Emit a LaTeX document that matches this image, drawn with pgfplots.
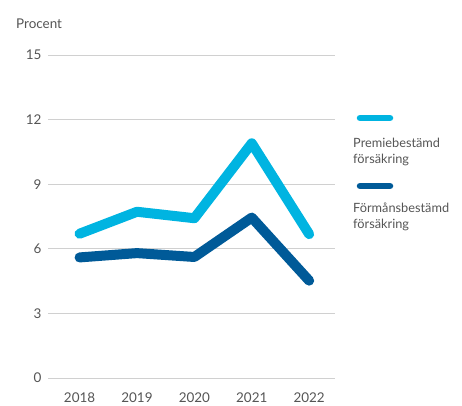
\documentclass[border=0pt]{standalone}
\usepackage{pgfplots}
\pgfplotsset{compat=1.18}
\usepackage{fontspec}
\setmainfont{Lato}
\definecolor{lightb}{HTML}{00B4E1}
\definecolor{darkb}{HTML}{005A98}
\definecolor{txt}{HTML}{555555}
\definecolor{gridc}{HTML}{D0D0D0}
\begin{document}
\begin{tikzpicture}[x=1bp,y=1bp]
\begin{axis}[
  at={(0,0)}, anchor=south west,
  scale only axis, width=287bp, height=323bp,
  xmin=2017.45, xmax=2022.45,
  ymin=0, ymax=15,
  ytick={0,3,6,9,12,15},
  xtick={2018,2019,2020,2021,2022},
  xticklabel style={/pgf/number format/1000 sep=},
  /pgf/number format/assume math mode=true,
  ticklabel style={font=\fontsize{13.5}{15}\selectfont, text=txt},
  yticklabel style={xshift=-3bp},
  xticklabel style={yshift=-11bp},
  axis line style={draw=none},
  major tick style={draw=none},
  ymajorgrids, grid style={gridc, line width=0.8pt},
  clip=false,
]
\addplot[lightb, line width=10bp, line cap=round, line join=round] coordinates {
 (2018,6.7) (2019,7.72) (2020,7.42) (2021,10.9) (2022,6.68)};
\addplot[darkb, line width=10bp, line cap=round, line join=round] coordinates {
 (2018,5.6) (2019,5.8) (2020,5.62) (2021,7.45) (2022,4.52)};
\end{axis}
\node[anchor=base west, text=txt, font=\fontsize{13.5}{15}\selectfont, inner sep=0] at (-32,350) {Procent};
\draw[lightb, line width=6.5bp, line cap=round] (312,260) -- (342,260);
\node[anchor=base west, text=txt, font=\fontsize{12.8}{15}\selectfont, inner sep=0] at (305,231) {Premiebestämd};
\node[anchor=base west, text=txt, font=\fontsize{12.8}{15}\selectfont, inner sep=0] at (305,215) {försäkring};
\draw[darkb, line width=6.5bp, line cap=round] (312,192) -- (342,192);
\node[anchor=base west, text=txt, font=\fontsize{12.8}{15}\selectfont, inner sep=0] at (305,166) {Förmånsbestämd};
\node[anchor=base west, text=txt, font=\fontsize{12.8}{15}\selectfont, inner sep=0] at (305,150) {försäkring};
\pgfresetboundingbox
\path[use as bounding box] (-48,-27) rectangle (414,378);
\end{tikzpicture}
\end{document}
